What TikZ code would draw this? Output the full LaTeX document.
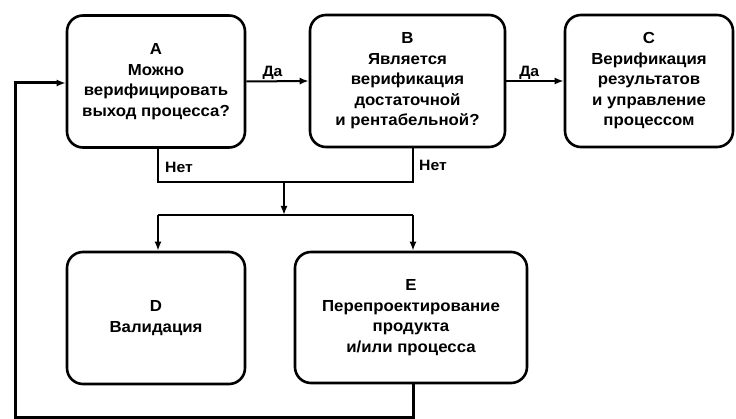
\documentclass[tikz,border=0pt]{standalone}
\usepackage{fontspec}
\setmainfont{Liberation Sans}[FakeStretch=1.05]
\usetikzlibrary{arrows.meta}
\begin{document}
\begin{tikzpicture}[x=1pt,y=-1pt,
  box/.style={draw, line width=2.6pt, rounded corners=16pt, align=center, inner sep=0pt,
    font=\bfseries\fontsize{16}{20.5}\selectfont},
  conn/.style={line width=2pt},
  arr/.style={-{Latex[length=9pt,width=7pt]}},
  lbl/.style={font=\bfseries\fontsize{15}{17}\selectfont, inner sep=1pt}]
\useasboundingbox (0,0) rectangle (736,419);
\node[box, minimum width=178pt, minimum height=132pt] (A) at (156,81.5) {A\\Можно\\верифицировать\\выход процесса?};
\node[box, minimum width=195pt, minimum height=132pt] (B) at (407.5,81) {B\\Является\\верификация\\достаточной\\и рентабельной?};
\node[box, minimum width=168pt, minimum height=132pt] (C) at (649,81) {C\\Верификация\\результатов\\и управление\\процессом};
\node[box, minimum width=178pt, minimum height=132pt] (D) at (156,318) {D\\Валидация};
\node[box, minimum width=232pt, minimum height=131pt] (E) at (411,317.5) {E\\Перепроектирование\\продукта\\и/или процесса};
\coordinate (j1) at (158,182);
\coordinate (j2) at (413,182);
\coordinate (m) at (284,182);
\coordinate (m2) at (284,215);
\coordinate (s1) at (158,215);
\coordinate (s2) at (413,215);
\coordinate (l1) at (413,417.5);
\coordinate (l2) at (15,417.5);
\coordinate (l3) at (15,83);
\draw[conn,arr] (A.east) -- node[lbl, above, pos=0.42] {Да} (B.west);
\draw[conn,arr] (B.east) -- node[lbl, above, pos=0.4] {Да} (C.west);
\draw[conn] (A.south -| j1) -- (j1) -- (j2) -- (B.south -| j2);
\node[lbl, anchor=west] (n1) at (164,167) {Нет};
\node[lbl, anchor=west] (n2) at (418,165) {Нет};
\draw[conn,arr] (m) -- (m2);
\draw[conn] (s1) -- (s2);
\draw[conn,arr] (s1) -- (D.north -| s1);
\draw[conn,arr] (s2) -- (E.north -| s2);
\draw[line width=3pt,arr] (E.south -| l1) -- (l1) -- (l2) -- (l3) -- (A.west |- l3);
\end{tikzpicture}
\end{document}
